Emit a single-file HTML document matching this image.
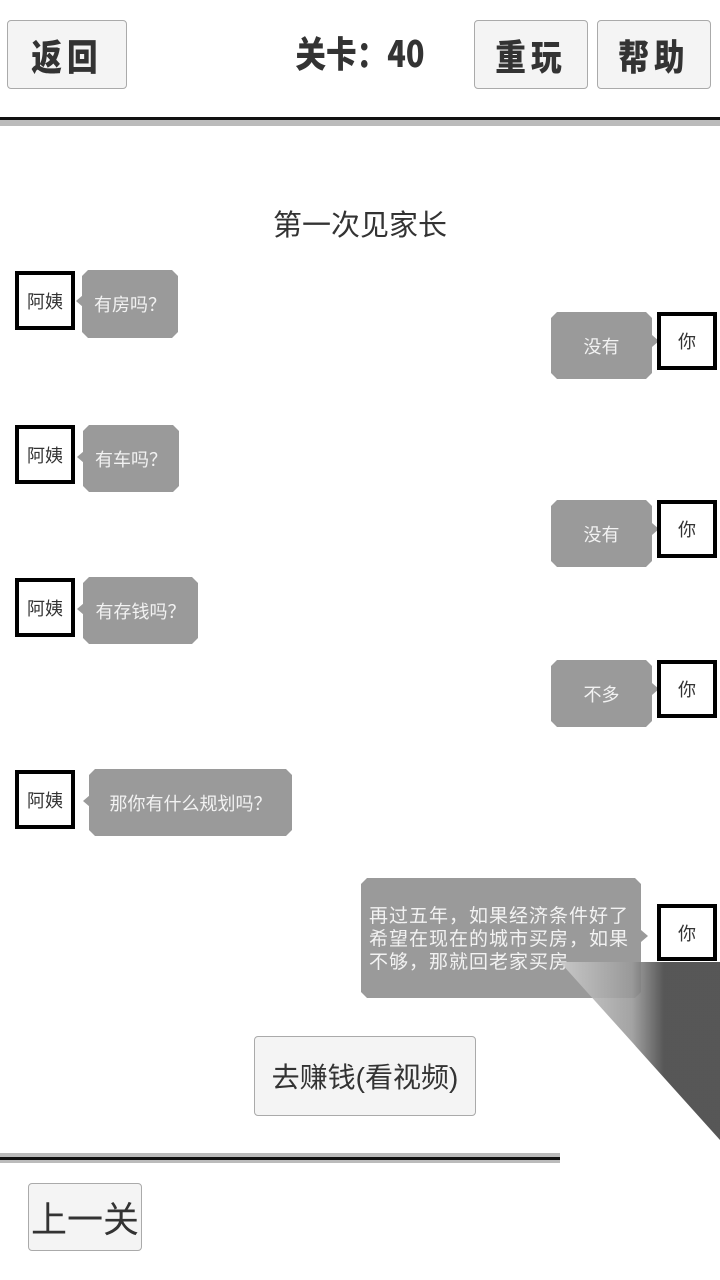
<!DOCTYPE html>
<html><head><meta charset="utf-8"><style>
body{margin:0;width:720px;height:1280px;background:#fff;position:relative;overflow:hidden;font-family:"Liberation Sans","Noto Sans CJK SC",sans-serif;}
.btn{position:absolute;background:#f4f4f4;border:1px solid #aaa;border-radius:4px;display:flex;align-items:center;justify-content:center;color:#333;box-sizing:border-box}
.hb{font-family:"Noto Sans CJK SC",sans-serif;font-weight:900;font-size:36px;letter-spacing:6px}
.hb span{display:inline-block;transform:scaleX(0.85)}
.box{position:absolute;border:4px solid #000;background:#fff;box-sizing:border-box;display:flex;align-items:center;justify-content:center;font-size:18px;color:#333}
.bub{position:absolute;background:#9a9a9a;color:#f2f2f2;font-size:18px;display:flex;align-items:center;justify-content:center;box-sizing:border-box;clip-path:polygon(6px 0,calc(100% - 6px) 0,100% 6px,100% calc(100% - 6px),calc(100% - 6px) 100%,6px 100%,0 calc(100% - 6px),0 6px)}
.tl,.tr{position:absolute;width:0;height:0;border-top:6px solid transparent;border-bottom:6px solid transparent}
.tl{border-right:7px solid #9a9a9a}.tr{border-left:7px solid #9a9a9a}
</style></head><body>
<div class="btn hb" style="left:7px;top:20px;width:120px;height:69px"><span>返回</span></div>
<div style="position:absolute;left:270px;top:26px;width:180px;text-align:center;font-family:'Noto Sans CJK SC',sans-serif;font-weight:900;font-size:36px;color:#333"><span style="display:inline-block;transform:scaleX(0.85)">关卡：40</span></div>
<div class="btn hb" style="left:474px;top:20px;width:114px;height:69px"><span>重玩</span></div>
<div class="btn hb" style="left:597px;top:20px;width:114px;height:69px"><span>帮助</span></div>
<div style="position:absolute;left:0;top:117px;width:720px;height:3px;background:#111"></div>
<div style="position:absolute;left:0;top:120px;width:720px;height:6px;background:#bbb"></div>
<div style="position:absolute;left:0;top:202px;width:720px;text-align:center;font-size:29px;color:#333">第一次见家长</div>

<div class="box" style="left:15px;top:271px;width:60px;height:59px">阿姨</div>
<div class="tl" style="left:76px;top:295px"></div>
<div class="bub" style="left:82px;top:270px;width:96px;height:68px">有房吗？</div>
<div class="bub" style="left:551px;top:312px;width:101px;height:67px">没有</div>
<div class="tr" style="left:652px;top:335px"></div>
<div class="box" style="left:657px;top:312px;width:60px;height:58px">你</div>

<div class="box" style="left:15px;top:425px;width:60px;height:59px">阿姨</div>
<div class="tl" style="left:77px;top:451px"></div>
<div class="bub" style="left:83px;top:425px;width:96px;height:67px">有车吗？</div>
<div class="bub" style="left:551px;top:500px;width:101px;height:67px">没有</div>
<div class="tr" style="left:652px;top:523px"></div>
<div class="box" style="left:657px;top:500px;width:60px;height:58px">你</div>

<div class="box" style="left:15px;top:578px;width:60px;height:59px">阿姨</div>
<div class="tl" style="left:77px;top:603px"></div>
<div class="bub" style="left:83px;top:577px;width:115px;height:67px">有存钱吗？</div>
<div class="bub" style="left:551px;top:660px;width:101px;height:67px">不多</div>
<div class="tr" style="left:652px;top:683px"></div>
<div class="box" style="left:657px;top:660px;width:60px;height:58px">你</div>

<div class="box" style="left:15px;top:770px;width:60px;height:59px">阿姨</div>
<div class="tl" style="left:83px;top:795px"></div>
<div class="bub" style="left:89px;top:769px;width:203px;height:67px">那你有什么规划吗？</div>

<div class="bub" style="left:361px;top:878px;width:280px;height:120px;font-size:19px;letter-spacing:1px;line-height:23px;justify-content:flex-start;align-items:flex-start;padding:27px 6px 0 8px;text-align:left">再过五年，如果经济条件好了希望在现在的城市买房，如果不够，那就回老家买房</div>
<div class="tr" style="left:641px;top:930px"></div>
<div class="box" style="left:657px;top:904px;width:60px;height:57px">你</div>

<div class="btn" style="left:254px;top:1036px;width:222px;height:80px;font-size:28px">去赚钱(看视频)</div>
<div style="position:absolute;left:0;top:1153px;width:560px;height:4px;background:#bbb"></div>
<div style="position:absolute;left:0;top:1157px;width:560px;height:3px;background:#111"></div>
<div style="position:absolute;left:0;top:1160px;width:560px;height:3px;background:#bbb"></div>
<div class="btn" style="left:28px;top:1183px;width:114px;height:68px;font-size:36px;font-family:'Noto Sans CJK SC',sans-serif">上一关</div>

<svg style="position:absolute;left:0;top:0" width="720" height="1280">
<defs><linearGradient id="g" x1="0" y1="0" x2="1" y2="0"><stop offset="0" stop-color="#ccc"/><stop offset="0.45" stop-color="#999"/><stop offset="0.65" stop-color="#444"/><stop offset="1" stop-color="#444"/></linearGradient></defs>
<polygon points="560,962 720,962 720,1140" fill="url(#g)" opacity="0.9"/>
</svg>
</body></html>
